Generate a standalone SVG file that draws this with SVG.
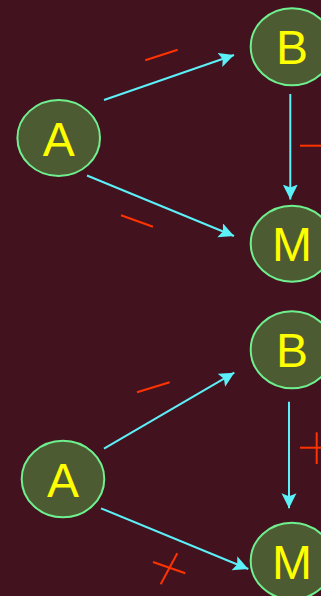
<svg xmlns="http://www.w3.org/2000/svg" width="321" height="596" viewBox="0 0 321 596">
<style>
.node ellipse{fill:#4d5b33;stroke:#6ff08f;stroke-width:2}
.node text{fill:#ffff00;font-family:"Liberation Sans",Arial,sans-serif;font-size:48px;text-anchor:middle}
.edge{stroke:#5cf0f8;stroke-width:2;fill:none;marker-end:url(#arr)}
.sign{stroke:#ff3300;stroke-width:2;fill:none}
</style>
<defs>
<marker id="arr" markerUnits="userSpaceOnUse" markerWidth="16" markerHeight="16" refX="15" refY="7.5" orient="auto" viewBox="0 0 16 16">
<path d="M0,0 L15,7.5 L0,15 L3,7.5 Z" fill="#5cf0f8"/>
</marker>
</defs>
<rect width="321" height="596" fill="#43121f"/>
<g id="connectors">
<line class="edge" x1="104" y1="100" x2="234" y2="55"/>
<line class="edge" x1="87" y1="175.5" x2="234" y2="236"/>
<line class="edge" x1="290.3" y1="94" x2="290.3" y2="199.5"/>
<line class="edge" x1="104" y1="448.7" x2="234.3" y2="372.7"/>
<line class="edge" x1="101" y1="508.3" x2="248.3" y2="569"/>
<line class="edge" x1="289" y1="401.7" x2="289" y2="508.3"/>
</g>
<g id="signs">
<line class="sign" x1="145.3" y1="60.3" x2="177.7" y2="49.7"/>
<line class="sign" x1="300" y1="145.7" x2="321" y2="145.7"/>
<line class="sign" x1="121" y1="215.3" x2="153" y2="226.7"/>
<line class="sign" x1="137" y1="392.3" x2="169.7" y2="382.3"/>
<line class="sign" x1="300" y1="447.7" x2="321" y2="447.7"/>
<line class="sign" x1="316.7" y1="432.3" x2="316.7" y2="464"/>
<line class="sign" x1="153" y1="562" x2="185.3" y2="573.3"/>
<line class="sign" x1="177.3" y1="553.3" x2="160.7" y2="584.3"/>
</g>
<g id="A1" class="node"><ellipse cx="58.7" cy="138" rx="41.3" ry="38"/><text x="58.7" y="155.5">A</text></g>
<g id="B1" class="node"><ellipse cx="292" cy="46.8" rx="41.3" ry="38.5"/><text x="292" y="64.3">B</text></g>
<g id="M1" class="node"><ellipse cx="292" cy="243.7" rx="41.3" ry="38"/><text x="292" y="261.2">M</text></g>
<g id="A2" class="node"><ellipse cx="63" cy="479" rx="41.3" ry="38.3"/><text x="63" y="496.5">A</text></g>
<g id="B2" class="node"><ellipse cx="292" cy="349.7" rx="41.3" ry="38.5"/><text x="292" y="367.2">B</text></g>
<g id="M2" class="node"><ellipse cx="292" cy="561" rx="41.3" ry="38.3"/><text x="292" y="578.5">M</text></g>
</svg>
